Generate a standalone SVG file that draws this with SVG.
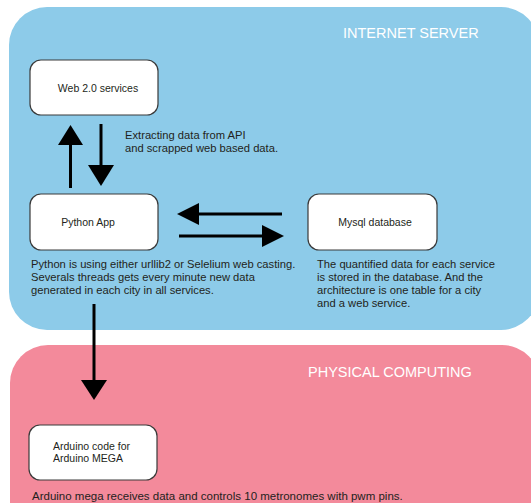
<svg xmlns="http://www.w3.org/2000/svg" width="531" height="503" viewBox="0 0 531 503">
<style>
.node{fill:#fff;stroke:#3a3a3a;stroke-width:1.2}
.lbl{font-family:"Liberation Sans",Arial,sans-serif;font-size:10.5px;fill:#231f20}
.desc{font-family:"Liberation Sans",Arial,sans-serif;font-size:11.2px;fill:#231f20}
.title{font-family:"Liberation Sans",Arial,sans-serif;font-size:14.5px;fill:#fff}
.ln{stroke:#000;stroke-width:3;fill:none}
.hd{fill:#000}
</style>
<rect width="531" height="503" fill="#fff"/>
<g id="internet-server">
<rect x="9" y="7" width="530" height="323" rx="38" fill="#8dcbe9"/>
<text class="title" x="343" y="38">INTERNET SERVER</text>
</g>
<g id="physical-computing">
<rect x="10" y="345" width="530" height="200" rx="38" fill="#f38a9b"/>
<text class="title" x="308" y="377">PHYSICAL COMPUTING</text>
</g>
<g id="web20">
<rect class="node" x="30" y="60" width="128" height="55" rx="11"/>
<text class="lbl" x="98" y="92" text-anchor="middle">Web 2.0 services</text>
</g>
<g id="python">
<rect class="node" x="30" y="194" width="128" height="56" rx="11"/>
<text class="lbl" x="88" y="226" text-anchor="middle">Python App</text>
<text class="desc" x="31" y="268">Python is using either urllib2 or Selelium web casting.</text>
<text class="desc" x="31" y="281">Severals threads gets every minute new data</text>
<text class="desc" x="31" y="294">generated in each city in all services.</text>
</g>
<g id="mysql">
<rect class="node" x="308" y="194" width="129" height="56" rx="11"/>
<text class="lbl" x="375" y="226" text-anchor="middle">Mysql database</text>
<text class="desc" x="317" y="268">The quantified data for each service</text>
<text class="desc" x="317" y="281">is stored in the database. And the</text>
<text class="desc" x="317" y="294">architecture is one table for a city</text>
<text class="desc" x="317" y="307">and a web service.</text>
</g>
<g id="arduino">
<rect class="node" x="29" y="425" width="128" height="55" rx="11"/>
<text class="lbl" x="53" y="450">Arduino code for</text>
<text class="lbl" x="53" y="462">Arduino MEGA</text>
<text class="desc" x="32" y="500" style="font-size:11.5px">Arduino mega receives data and controls 10 metronomes with pwm pins.</text>
</g>
<g id="connectors">
<line class="ln" x1="70.5" y1="188" x2="70.5" y2="144"/>
<polygon class="hd" points="58,145 83,145 70.5,125"/>
<line class="ln" x1="101" y1="124" x2="101" y2="166"/>
<polygon class="hd" points="88,165 114,165 101,186"/>
<text class="desc" x="125" y="139">Extracting data from API</text>
<text class="desc" x="125" y="152">and scrapped web based data.</text>
<line class="ln" x1="282" y1="214" x2="198" y2="214"/>
<polygon class="hd" points="199,203 199,225 177,214"/>
<line class="ln" x1="179" y1="236" x2="263" y2="236"/>
<polygon class="hd" points="262,225 262,247 284,236"/>
<line class="ln" x1="94" y1="304" x2="94" y2="381"/>
<polygon class="hd" points="81,380 107,380 94,400"/>
</g>
</svg>
